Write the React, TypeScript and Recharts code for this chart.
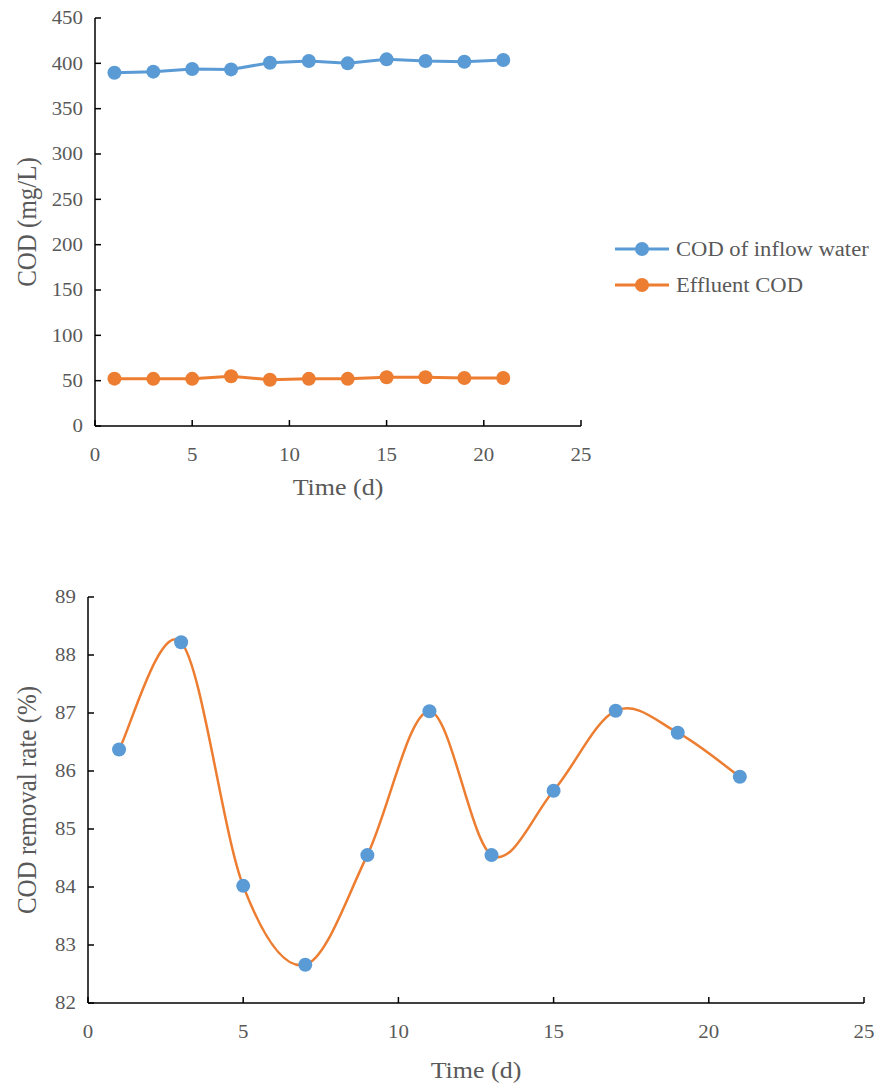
import { Legend, Line, LineChart, XAxis, YAxis } from "recharts";

const DAYS = [1, 3, 5, 7, 9, 11, 13, 15, 17, 19, 21];
const INFLOW_COD = [389.6, 390.8, 393.7, 393.3, 400.7, 402.5, 400, 404.4, 402.5, 401.8, 403.7];
const EFFLUENT_COD = [52.2, 52, 52, 54.8, 51, 52, 52, 53.7, 53.7, 52.9, 53];
const REMOVAL_RATE = [86.37, 88.22, 84.02, 82.66, 84.55, 87.03, 84.55, 85.66, 87.04, 86.66, 85.9];

const TIME_TICKS = [0, 5, 10, 15, 20, 25];
const COD_TICKS = [0, 50, 100, 150, 200, 250, 300, 350, 400, 450];
const RATE_TICKS = [82, 83, 84, 85, 86, 87, 88, 89];

const BLUE = "#5B9BD5";
const ORANGE = "#ED7D31";
const TEXT = "#595959";
const FONT = '"Liberation Serif", "Times New Roman", serif';
// the source image is a bit wider than tall, so text is stretched sideways
const STRETCH = 1.13;

const codData = DAYS.map((day, i) => ({
  day,
  inflow: INFLOW_COD[i],
  effluent: EFFLUENT_COD[i],
}));

const rateData = DAYS.map((day, i) => ({ day, rate: REMOVAL_RATE[i] }));

// Excel-style smoothed line (Catmull-Rom through every point)
function excelSmooth(context: any) {
  let pts: number[][] = [];
  return {
    areaStart() {},
    areaEnd() {},
    lineStart() {
      pts = [];
    },
    point(x: number, y: number) {
      pts.push([+x, +y]);
    },
    lineEnd() {
      const n = pts.length;
      if (!n) return;
      context.moveTo(pts[0][0], pts[0][1]);
      for (let i = 0; i < n - 1; i++) {
        const p0 = pts[Math.max(i - 1, 0)];
        const p1 = pts[i];
        const p2 = pts[i + 1];
        const p3 = pts[Math.min(i + 2, n - 1)];
        context.bezierCurveTo(
          p1[0] + (p2[0] - p0[0]) / 6,
          p1[1] + (p2[1] - p0[1]) / 6,
          p2[0] - (p3[0] - p1[0]) / 6,
          p2[1] - (p3[1] - p1[1]) / 6,
          p2[0],
          p2[1]
        );
      }
    },
  };
}

// ticks point inward, like the Excel original
function XTick(props: any) {
  const { x, y, payload } = props;
  return (
    <g>
      <line x1={x} x2={x} y1={y} y2={y - 6} stroke="#000" strokeWidth={1.5} />
      <text
        transform={`translate(${x},${y + 35}) scale(${STRETCH},1)`}
        textAnchor="middle"
        fill={TEXT}
        fontSize={18.5}
      >
        {payload.value}
      </text>
    </g>
  );
}

function YTick(props: any) {
  const { x, y, payload } = props;
  return (
    <g>
      <line x1={x} x2={x + 6} y1={y} y2={y} stroke="#000" strokeWidth={1.5} />
      <text
        transform={`translate(${x - 12},${y}) scale(${STRETCH},1)`}
        dy="0.35em"
        textAnchor="end"
        fill={TEXT}
        fontSize={18.5}
      >
        {payload.value}
      </text>
    </g>
  );
}

function XTitle(props: any) {
  const { viewBox, text, off } = props;
  const { x, y, width, height } = viewBox;
  return (
    <text
      transform={`translate(${x + width / 2},${y + height - off}) scale(${STRETCH},1)`}
      textAnchor="middle"
      fill={TEXT}
      fontSize={23}
    >
      {text}
    </text>
  );
}

function YTitle(props: any) {
  const { viewBox, text, off } = props;
  const { x, y, height } = viewBox;
  return (
    <text
      transform={`translate(${x + off},${y + height / 2}) rotate(-90) scale(1,${STRETCH})`}
      dy="0.35em"
      textAnchor="middle"
      fill={TEXT}
      fontSize={25}
    >
      {text}
    </text>
  );
}

function LegendContent({ payload }: any) {
  return (
    <div style={{ fontFamily: FONT, fontSize: 20, color: TEXT }}>
      {(payload || []).map((entry: any) => (
        <div
          key={entry.value}
          style={{ display: "flex", alignItems: "center", height: 36, whiteSpace: "nowrap" }}
        >
          <svg width={54} height={16}>
            <line x1={0} x2={54} y1={8} y2={8} stroke={entry.color} strokeWidth={3} />
            <circle cx={27} cy={8} r={7} fill={entry.color} />
          </svg>
          <span
            style={{
              marginLeft: 7,
              display: "inline-block",
              transform: `scaleX(${STRETCH})`,
              transformOrigin: "left center",
            }}
          >
            {entry.value}
          </span>
        </div>
      ))}
    </div>
  );
}

const axisLine = { stroke: "#000", strokeWidth: 1.5 };

export default function App() {
  return (
    <div
      style={{
        position: "absolute",
        left: 0,
        top: 0,
        width: 880,
        height: 1088,
        background: "#fff",
        fontFamily: FONT,
      }}
    >
      <div style={{ position: "absolute", left: 0, top: 0 }}>
        <LineChart
          width={880}
          height={510}
          data={codData}
          margin={{ top: 18, right: 299, bottom: 4, left: 15 }}
        >
          <XAxis
            dataKey="day"
            type="number"
            domain={[0, 25]}
            ticks={TIME_TICKS}
            interval={0}
            height={80}
            tickSize={0}
            tickMargin={0}
            tickLine={false}
            axisLine={axisLine}
            tick={<XTick />}
            label={<XTitle text="Time (d)" off={11} />}
          />
          <YAxis
            type="number"
            domain={[0, 450]}
            ticks={COD_TICKS}
            interval={0}
            width={80}
            tickSize={0}
            tickMargin={0}
            tickLine={false}
            axisLine={axisLine}
            tick={<YTick />}
            label={<YTitle text="COD (mg/L)" off={11} />}
          />
          <Legend
            layout="vertical"
            align="center"
            verticalAlign="middle"
            content={<LegendContent />}
            wrapperStyle={{ left: 615, top: 231, width: 260 }}
          />
          <Line
            dataKey="inflow"
            name="COD of inflow water"
            type="linear"
            stroke={BLUE}
            strokeWidth={3}
            dot={{ r: 7, fill: BLUE, stroke: BLUE, strokeWidth: 0 }}
            activeDot={false}
            isAnimationActive={false}
          />
          <Line
            dataKey="effluent"
            name="Effluent COD"
            type="linear"
            stroke={ORANGE}
            strokeWidth={3}
            dot={{ r: 7, fill: ORANGE, stroke: ORANGE, strokeWidth: 0 }}
            activeDot={false}
            isAnimationActive={false}
          />
        </LineChart>
      </div>

      <div style={{ position: "absolute", left: 0, top: 560 }}>
        <LineChart
          width={880}
          height={528}
          data={rateData}
          margin={{ top: 37, right: 16, bottom: 5, left: 8 }}
        >
          <XAxis
            dataKey="day"
            type="number"
            domain={[0, 25]}
            ticks={TIME_TICKS}
            interval={0}
            height={80}
            tickSize={0}
            tickMargin={0}
            tickLine={false}
            axisLine={axisLine}
            tick={<XTick />}
            label={<XTitle text="Time (d)" off={5} />}
          />
          <YAxis
            type="number"
            domain={[82, 89]}
            ticks={RATE_TICKS}
            interval={0}
            width={80}
            tickSize={0}
            tickMargin={0}
            tickLine={false}
            axisLine={axisLine}
            tick={<YTick />}
            label={<YTitle text="COD removal rate (%)" off={18} />}
          />
          <Line
            dataKey="rate"
            name="COD removal rate"
            type={excelSmooth as any}
            stroke={ORANGE}
            strokeWidth={2.5}
            dot={{ r: 7, fill: BLUE, stroke: BLUE, strokeWidth: 0 }}
            activeDot={false}
            isAnimationActive={false}
          />
        </LineChart>
      </div>
    </div>
  );
}
